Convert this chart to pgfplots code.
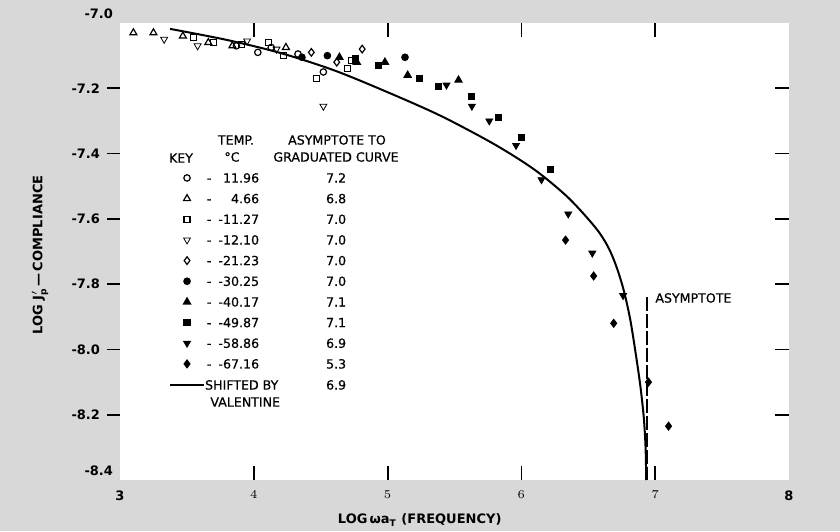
\documentclass[border=0pt]{standalone}
\usepackage{fontspec}
\setmainfont{DejaVu Sans}
\newfontfamily\legfam[FakeBold=0.5]{DejaVu Sans}
\usepackage{pgfplots}
\pgfplotsset{compat=1.18}
\definecolor{bggray}{RGB}{216,216,216}

\newcommand\tickfont{\fontsize{6.5}{7.5}\selectfont\bfseries}
\newcommand\legfont{\legfam\fontsize{6.3}{7.5}\selectfont}
\newcommand\lrow[2]{\makebox[4pt][c]{-}\makebox[23pt][r]{#1}\makebox[77pt][c]{#2}}

\pgfplotsset{
  markleg/.style={legend image code/.code={
      \path (0cm,-2pt) (0.6cm,2pt);
      \draw[##1] plot coordinates {(0.3cm,0cm)};}},
  lineleg/.style={legend image code/.code={
      \path (0cm,-2pt) (0.6cm,2pt);
      \draw[##1] (0cm,0cm) -- (0.6cm,0cm);}},
  pts/.style={only marks, black, mark options={line width=0.6pt, solid}, markleg},
}

\begin{document}
\begin{tikzpicture}
\useasboundingbox (0,0) rectangle (420pt,265.5pt);
\fill[bggray] (0,0) rectangle (420pt,265.5pt);

% main axis: data, x ticks, right-hand ticks
\begin{axis}[
  at={(60pt,25.5pt)}, anchor=south west,
  scale only axis, width=334.5pt, height=228.5pt,
  xmin=3, xmax=8, ymin=-8.4, ymax=-7.0,
  axis background/.style={fill=white},
  axis line style={draw=none},
  tick align=inside,
  major tick length=7pt,
  tick style={black, line width=0.9pt},
  xtick={4,5,6,7},
  extra x ticks={3,8},
  extra x tick labels={3,8},
  extra x tick style={major tick length=0pt},
  xtick pos=both,
  ytick={-7.2,-7.4,-7.6,-7.8,-8.0,-8.2},
  yticklabels={,,,,,},
  ytick pos=right,
  xticklabel style={font=\tickfont, yshift=-2pt},
  xlabel={LOG\,ωa\textsubscript{T} (FREQUENCY)},
  xlabel style={at={(axis description cs:0.448,-0.0875)}, anchor=center, font=\tickfont},
  legend cell align=left,
  legend style={at={(axis description cs:0.0732,0.671)}, anchor=north west,
    draw=none, fill=none, inner sep=0pt, outer sep=0pt,
    column sep=0pt, row sep=5.73pt, font=\legfont,
    nodes={inner sep=0pt, text height=4.6pt, text depth=0pt}},
]
\addplot[pts, mark=o, mark size=1.6pt] coordinates {
  (3.87,-7.07) (4.03,-7.09) (4.13,-7.075) (4.33,-7.095) (4.52,-7.15)};
\addlegendentry{\lrow{11.96}{7.2}}
\addplot[pts, mark=triangle, mark size=2pt] coordinates {
  (3.10,-7.03) (3.25,-7.03) (3.47,-7.04) (3.66,-7.06) (3.84,-7.07) (4.24,-7.075)};
\addlegendentry{\lrow{4.66}{6.8}}
\addplot[pts, mark=square, mark size=1.5pt] coordinates {
  (3.55,-7.045) (3.70,-7.06) (3.91,-7.065) (4.11,-7.06) (4.22,-7.10)
  (4.47,-7.17) (4.70,-7.14) (4.73,-7.115)};
\addlegendentry{\lrow{-11.27}{7.0}}
\addplot[pts, mark=triangle, mark size=2pt, mark options={rotate=180}] coordinates {
  (3.33,-7.05) (3.58,-7.07) (3.95,-7.055) (4.17,-7.08) (4.52,-7.255)};
\addlegendentry{\lrow{-12.10}{7.0}}
\addplot[pts, mark=diamond, mark size=1.9pt] coordinates {
  (4.43,-7.09) (4.62,-7.12) (4.81,-7.08)};
\addlegendentry{\lrow{-21.23}{7.0}}
\addplot[pts, mark=*, mark size=1.6pt] coordinates {
  (4.36,-7.105) (4.55,-7.10) (5.13,-7.105)};
\addlegendentry{\lrow{-30.25}{7.0}}
\addplot[pts, mark=triangle*, mark size=2pt] coordinates {
  (4.64,-7.105) (4.77,-7.12) (4.98,-7.12) (5.15,-7.16) (5.53,-7.175)};
\addlegendentry{\lrow{-40.17}{7.1}}
\addplot[pts, mark=square*, mark size=1.5pt] coordinates {
  (4.76,-7.11) (4.93,-7.13) (5.24,-7.17) (5.38,-7.195) (5.63,-7.225)
  (5.83,-7.29) (6.00,-7.35) (6.22,-7.45)};
\addlegendentry{\lrow{-49.87}{7.1}}
\addplot[pts, mark=triangle*, mark size=2pt, mark options={rotate=180}] coordinates {
  (5.44,-7.19) (5.63,-7.255) (5.76,-7.30) (5.96,-7.375) (6.15,-7.48)
  (6.35,-7.585) (6.53,-7.705) (6.76,-7.835)};
\addlegendentry{\lrow{-58.86}{6.9}}
\addplot[pts, mark=diamond*, mark size=1.9pt] coordinates {
  (6.33,-7.665) (6.54,-7.775) (6.69,-7.92) (6.95,-8.10) (7.10,-8.235)};
\addlegendentry{\lrow{-67.16}{5.3}}
\addplot[black, line width=1pt, smooth, tension=0.5, lineleg] coordinates {
  (3.374,-7.018) (3.8,-7.052) (4.2,-7.092) (4.6,-7.145) (5.0,-7.212)
  (5.4,-7.285) (5.8,-7.372) (6.1,-7.45) (6.35,-7.535) (6.55,-7.625)
  (6.64,-7.68) (6.70,-7.735) (6.759,-7.81) (6.812,-7.905) (6.857,-8.02)
  (6.89,-8.115) (6.915,-8.21) (6.928,-8.30) (6.933,-8.40)};
\addlegendentry{\makebox[27pt][l]{SHIFTED BY}\makebox[77pt][c]{6.9}}
% asymptote
\addplot[black, line width=1pt, dash pattern=on 7pt off 1.5pt, forget plot]
  coordinates {(6.94,-7.84) (6.94,-8.4)};
\end{axis}

% second axis: left-hand ticks and labels
\begin{axis}[
  at={(60pt,25.5pt)}, anchor=south west,
  scale only axis, width=334.5pt, height=228.5pt,
  xmin=3, xmax=8, ymin=-8.4, ymax=-7.0,
  axis line style={draw=none},
  xtick=\empty,
  tick align=outside, major tick length=6.5pt,
  tick style={black, line width=0.9pt},
  ytick={-7.2,-7.4,-7.6,-7.8,-8.0,-8.2},
  yticklabels={-7.2,-7.4,-7.6,-7.8,-8.0,-8.2},
  ytick pos=left,
  extra y ticks={-7.0,-8.4},
  extra y tick labels={-7.0,-8.4},
  extra y tick style={major tick length=0pt, yticklabel style={yshift=4.5pt}},
  yticklabel style={font=\tickfont},
  ylabel={LOG J\ensuremath{'_{\mathbf{p}}}\,—\,COMPLIANCE},
  ylabel style={at={(axis description cs:-0.1196,0.492)}, anchor=center, font=\tickfont},
]
\end{axis}

\node[font=\legfont] at (90.5pt,186.5pt) {KEY};
\node[font=\legfont] at (118pt,195.5pt) {TEMP.};
\node[font=\legfont] at (116pt,187pt) {°C};
\node[font=\legfont] at (168.5pt,195.5pt) {ASYMPTOTE TO};
\node[font=\legfont] at (168pt,187pt) {GRADUATED CURVE};
\node[font=\legfont, anchor=west, inner sep=0pt] at (105pt,64.5pt) {VALENTINE};
\node[font=\legfont, anchor=west, inner sep=0pt] at (327.5pt,116.5pt) {ASYMPTOTE};
\end{tikzpicture}
\end{document}
